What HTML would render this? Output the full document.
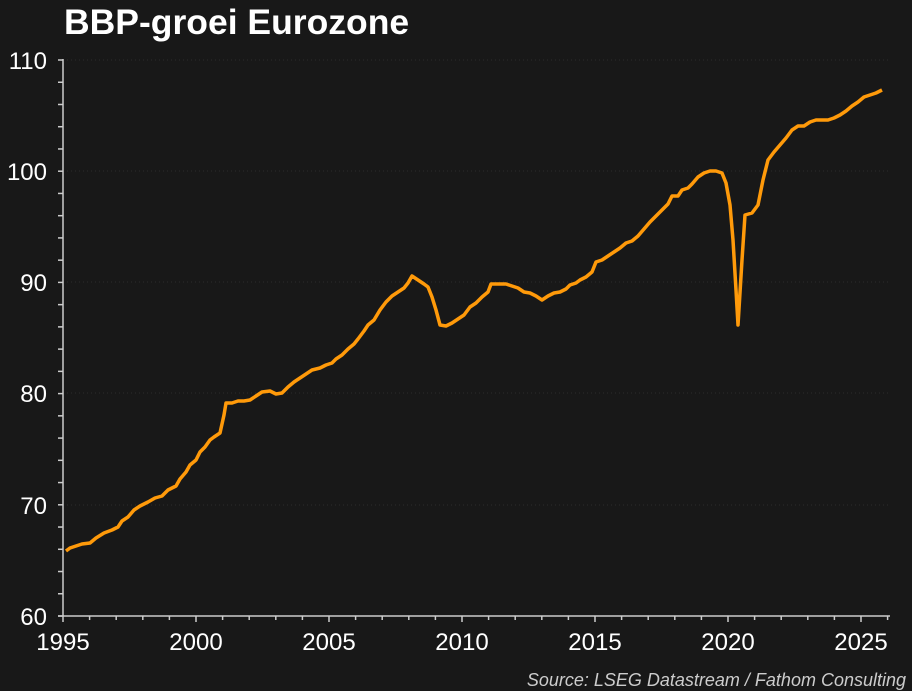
<!DOCTYPE html>
<html><head><meta charset="utf-8"><style>
body{margin:0;background:#181818;}
svg{display:block;font-family:"Liberation Sans",Arial,sans-serif;}
</style></head><body>
<svg width="912" height="691" viewBox="0 0 912 691">
<rect width="912" height="691" fill="#181818"/>
<text x="64" y="34" font-size="35.5" font-weight="bold" fill="#fff">BBP-groei Eurozone</text>
<g stroke="#2c2c2c" stroke-dasharray="1,3" stroke-width="1">
<line x1="63" x2="890" y1="60" y2="60"/><line x1="63" x2="890" y1="171" y2="171"/>
<line x1="63" x2="890" y1="282" y2="282"/><line x1="63" x2="890" y1="393" y2="393"/>
<line x1="63" x2="890" y1="505" y2="505"/>
</g>
<g stroke="#ccc" stroke-width="1.5" fill="none">
<line x1="63" y1="59" x2="63" y2="616"/>
<line x1="58" y1="616" x2="890" y2="616"/>
</g>
<g id="yt" stroke="#ccc" stroke-width="1.5"></g>
<g id="xt" stroke="#ccc" stroke-width="1.5"></g>
<g fill="#fff" font-size="24" text-anchor="end">
<text x="47" y="69">110</text><text x="47" y="180">100</text><text x="47" y="291">90</text>
<text x="47" y="402">80</text><text x="47" y="514">70</text><text x="47" y="625">60</text>
</g>
<g fill="#fff" font-size="24" text-anchor="middle">
<text x="63" y="650">1995</text><text x="196" y="650">2000</text><text x="329" y="650">2005</text>
<text x="462" y="650">2010</text><text x="595" y="650">2015</text><text x="728" y="650">2020</text><text x="861" y="650">2025</text>
</g>
<text x="906" y="686" font-size="18" font-style="italic" fill="#ccc" text-anchor="end">Source: LSEG Datastream / Fathom Consulting</text>
<polyline fill="none" stroke="#ff9a0a" stroke-width="3.5" stroke-linejoin="round" points="66,551 70,548 76,546 82,544 90,543 96,538 104,533 112,530 118,527 122,521 128,517 134,510 140,506 148,502 155,498 162,496 168,490 176,486 180,479 186,472 190,465 196,460 200,452 205,447 210,440 214,437 220,433 224,415 226,403 232,403 238,401 244,401 250,400 256,396 262,392 270,391 276,394 282,393 288,387 294,382 300,378 306,374 312,370 320,368 326,365 332,363 336,359 342,355 348,349 354,344 358,339 364,331 368,325 374,320 380,310 386,302 392,296 398,292 404,288 408,283 412,276 418,280 424,284 428,287 432,297 436,310 440,325 446,326 452,323 458,319 464,315 470,307 476,303 482,297 488,292 491,284 500,284 506,284 512,286 518,288 524,292 530,293 536,296 542,300 548,296 554,293 560,292 566,289 570,285 576,283 580,280 586,277 592,272 596,262 602,260 608,256 614,252 620,248 626,243 632,241 638,236 644,229 650,222 656,216 662,210 668,204 672,196 678,196 682,190 688,188 692,184 698,177 704,173 710,171 716,171 722,173 726,183 730,205 733,240 736,290 738,325 742,260 745,215 752,213 758,205 763,180 768,160 774,152 780,145 786,138 792,130 798,126 804,126 810,122 816,120 822,120 828,120 834,118 840,115 846,111 852,106 858,102 864,97 870,95 876,93 882,90"/>
</svg>
<script>
var ns="http://www.w3.org/2000/svg",yt=document.getElementById("yt"),xt=document.getElementById("xt");
for(var v=60;v<=110;v+=2){var y=616-(v-60)*11.12;var l=document.createElementNS(ns,"line");l.setAttribute("x1",58);l.setAttribute("x2",63);l.setAttribute("y1",y);l.setAttribute("y2",y);yt.appendChild(l);}
for(var yr=0;yr<=31;yr++){var x=63+yr*26.6;var l=document.createElementNS(ns,"line");l.setAttribute("x1",x);l.setAttribute("x2",x);l.setAttribute("y1",616);l.setAttribute("y2",yr%5==0?622:620);xt.appendChild(l);}
</script>
</body></html>
